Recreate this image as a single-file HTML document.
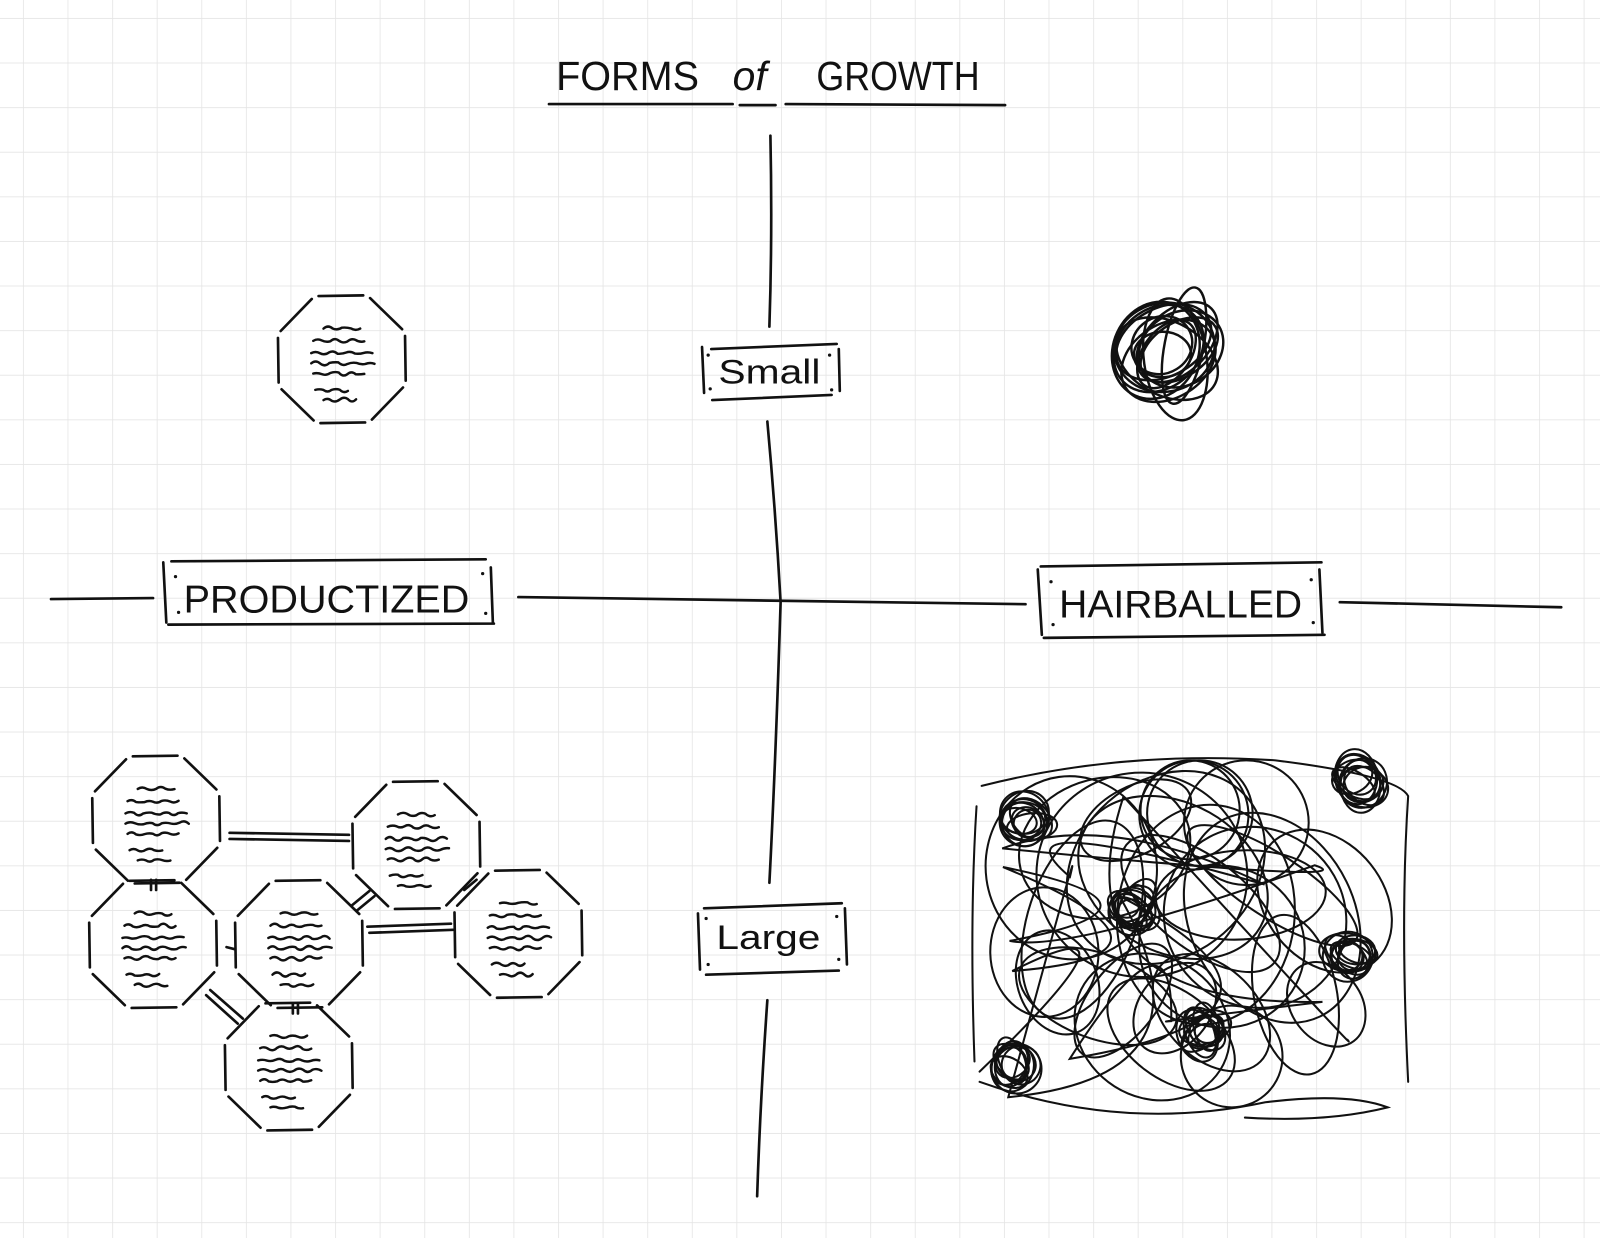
<!DOCTYPE html>
<html><head><meta charset="utf-8"><style>
html,body{margin:0;padding:0;background:#fff;width:1600px;height:1238px;overflow:hidden}
svg{display:block}
text{font-family:"Liberation Sans",sans-serif;fill:#111}
</style></head><body>
<svg id="s" width="1600" height="1238" viewBox="0 0 1568 1213" preserveAspectRatio="none" xmlns="http://www.w3.org/2000/svg">
<defs><pattern id="g" x="22.5" y="17.6" width="43.7" height="43.7" patternUnits="userSpaceOnUse">
<path d="M0 0H43.7M0 0V43.7" stroke="#e5e5e5" stroke-width="1.6" fill="none"/></pattern></defs>
<rect width="1568" height="1213" fill="url(#g)"/>
<g fill="none" stroke="#111" stroke-width="2.6" stroke-linecap="round" stroke-linejoin="round">
<path d="M538 102 L718 102 M725 103 L760 103 M770 102 L985 103"/>
<path d="M755 133 Q757 230 754 320 M752 413 Q760 500 765 590 Q760 750 754 865 M752 980 Q745 1080 742 1172"/>
<path d="M50 587 L150 586 M508 585 L1005 592 M1313 590 L1530 595"/>
<path d="M697 342 L820 337 M698 392 L815 387 M688 340 L690 385 M822 342 L823 383"/>
<path d="M690 890 L825 885 M692 955 L822 951 M684 895 L686 950 M828 890 L830 945"/>
<path d="M168 550 L476 548 M165 612 L484 611 M160 551 L163 610 M481 556 L483 610"/>
<path d="M1020 555 L1295 551 M1023 625 L1298 622 M1017 558 L1021 622 M1293 558 L1296 620"/>
<path d="M225 816 L342 818 M225 822 L342 824"/>
<path d="M360 908 L442 905 M362 914 L444 911"/>
<path d="M345 887 L362 873 M350 892 L367 878"/>
<path d="M455 872 L467 862"/>
<path d="M148 862 L148 872 M153 862 L153 872"/>
<path d="M202 975 L233 1003 M206 970 L238 998"/>
<path d="M287 983 L287 993 M292 983 L292 993"/>
<path d="M222 928 L230 930"/>
</g>
<g id="oct" fill="none" stroke="#111" stroke-width="2.6" stroke-linecap="round" stroke-linejoin="round"></g>
<g id="hair" fill="none" stroke="#111" stroke-width="2" stroke-linecap="round"></g>
<g fill="#111">
<circle cx="694" cy="348" r="1.6"/><circle cx="813" cy="348" r="1.6"/><circle cx="696" cy="381" r="1.6"/><circle cx="815" cy="382" r="1.6"/>
<circle cx="692" cy="900" r="1.6"/><circle cx="820" cy="898" r="1.6"/><circle cx="694" cy="945" r="1.6"/><circle cx="822" cy="940" r="1.6"/>
<circle cx="172" cy="565" r="1.6"/><circle cx="473" cy="562" r="1.6"/><circle cx="175" cy="600" r="1.6"/><circle cx="476" cy="601" r="1.6"/>
<circle cx="1030" cy="570" r="1.6"/><circle cx="1285" cy="568" r="1.6"/><circle cx="1032" cy="612" r="1.6"/><circle cx="1287" cy="610" r="1.6"/>
</g>
<text x="545" y="88" font-size="40" textLength="140" lengthAdjust="spacingAndGlyphs">FORMS</text>
<text x="718" y="88" font-size="40" font-style="italic">of</text>
<text x="800" y="88" font-size="40" textLength="160" lengthAdjust="spacingAndGlyphs">GROWTH</text>
<text x="704" y="376" font-size="34" textLength="100" lengthAdjust="spacingAndGlyphs">Small</text>
<text x="702" y="930" font-size="34" textLength="102" lengthAdjust="spacingAndGlyphs">Large</text>
<text x="180" y="600" font-size="38" textLength="280" lengthAdjust="spacingAndGlyphs">PRODUCTIZED</text>
<text x="1038" y="605" font-size="38" textLength="238" lengthAdjust="spacingAndGlyphs">HAIRBALLED</text>
</svg>
<script>
var seed=11;function r(){seed=(seed*16807)%2147483647;return seed/2147483647;}
var NS="http://www.w3.org/2000/svg";
function p(g,d,w){var e=document.createElementNS(NS,"path");e.setAttribute("d",d);if(w)e.setAttribute("stroke-width",w);document.getElementById(g).appendChild(e);}
function oct(cx,cy,R){var d="";for(var i=0;i<8;i++){var a1=Math.PI/8+i*Math.PI/4,a2=a1+Math.PI/4-0.07;
d+="M"+(cx+R*Math.cos(a1+0.04))+" "+(cy+R*Math.sin(a1+0.04))+"L"+(cx+R*Math.cos(a2))+" "+(cy+R*Math.sin(a2));}
p("oct",d);
var lines=[[-18,-30,36],[-28,-18,50],[-30,-6,60],[-30,4,62],[-28,14,50],[-26,30,32],[-18,40,32]];
lines.forEach(function(l){var x=cx+l[0],y=cy+l[1],s="M"+x+" "+y;var n=Math.round(l[2]/9);for(var k=1;k<=n;k++){var xx=x+k*l[2]/n,yy=y+(k%2?-2.5:2.5)+(r()-0.5)*3;s+=" Q"+(xx-l[2]/n/2)+" "+yy+" "+xx+" "+(y+(r()-0.5)*2);}p("oct",s,2.4);});}
oct(335,352,66);
[[153,803],[408,828],[150,925],[293,925],[508,915],[283,1045]].forEach(function(c){oct(c[0],c[1],66);});
function el(cx,cy,a,b,ro,w){var e=document.createElementNS(NS,"ellipse");e.setAttribute("cx",cx);e.setAttribute("cy",cy);e.setAttribute("rx",a);e.setAttribute("ry",b);
e.setAttribute("transform","rotate("+ro+" "+cx+" "+cy+")");if(w)e.setAttribute("stroke-width",w);document.getElementById("hair").appendChild(e);}
function loops(cx,cy,rx,ry,n,w){for(var i=0;i<n;i++){el(cx+(r()-0.5)*rx*0.5,cy+(r()-0.5)*ry*0.5,rx*(0.4+r()*0.6),ry*(0.4+r()*0.6),r()*180,w);}}
loops(1148,345,62,44,14,2.4);
var X0=960,X1=1375,Y0=745,Y1=1085;
for(var i=0;i<30;i++){var cx=X0+40+r()*(X1-X0-80),cy=Y0+40+r()*(Y1-Y0-80);
var m=Math.min(cx-X0,X1-cx,cy-Y0,Y1-cy);var a=Math.min(m,30+r()*90),b=Math.min(m,30+r()*80);el(cx,cy,a,b,r()*180,2);}
[[1005,805],[1330,765],[1110,890],[1325,935],[995,1045],[1180,1010]].forEach(function(c){loops(c[0],c[1],28,26,10,2);});
var s="M960 1050";for(var i=0;i<14;i++){s+=" Q"+(X0+r()*(X1-X0))+" "+(Y0+r()*(Y1-Y0))+" "+(X0+r()*(X1-X0))+" "+(Y0+r()*(Y1-Y0));}p("hair",s,2);
p("hair","M960 1060 Q1100 1110 1240 1080 Q1320 1070 1360 1085 Q1300 1100 1220 1095",2);
p("hair","M962 770 Q1100 735 1250 745 Q1370 760 1380 780 Q1372 900 1380 1060",2);
p("hair","M957 790 Q950 900 955 1040",2);
</script>
</body></html>
